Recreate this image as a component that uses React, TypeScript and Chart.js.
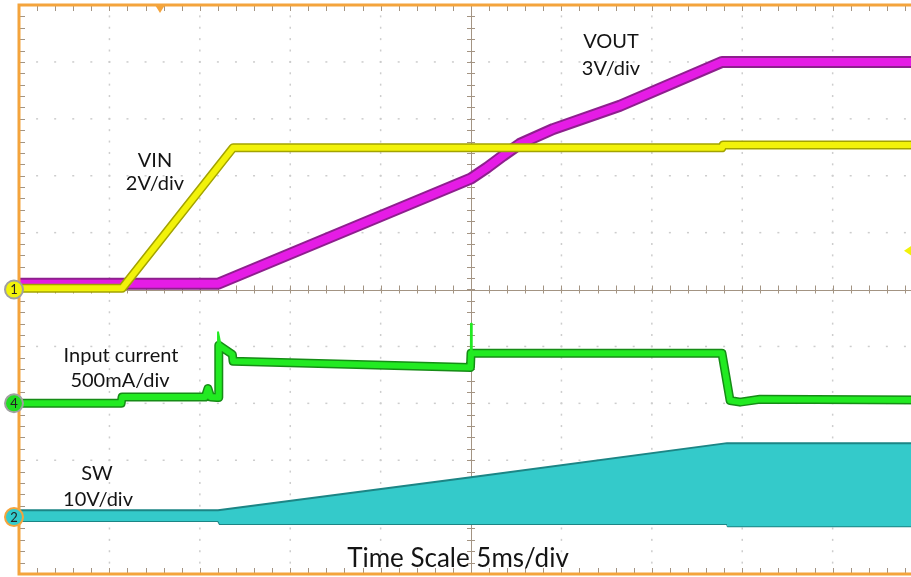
import React, { useEffect, useRef } from "react";
import { Chart, registerables } from "chart.js";

Chart.register(...registerables);

// time in ms (5 ms/div, trigger at 0), values in screen divisions (0 = centre line)
const vinTime = [-25, -19.3, -13.16, 13.88, 13.94, 25];
const vinDiv = [0.02, 0.02, 2.49, 2.49, 2.54, 2.54];

const voutTime = [-25, -13.99, 0, 0.88, 1.77, 2.71, 4.54, 8.24, 13.88, 25];
const voutDiv = [0.1, 0.1, 1.95, 2.14, 2.35, 2.56, 2.82, 3.23, 4.0, 4.0];

const iinTime = [-25, -19.35, -19.3, -14.7, -14.55, -14.4, -14.05, -13.99, -13.95, -13.2, -13.16, -0.03, 0.0, 13.88, 14.33, 14.88, 15.98, 25];
const iinDiv = [-2.0, -2.0, -1.89, -1.89, -1.74, -1.89, -1.9, -1.9, -0.98, -1.14, -1.26, -1.37, -1.12, -1.12, -1.95, -1.98, -1.93, -1.94];

const spikeATime = [-14.0, -13.99, -13.85];
const spikeADiv = [-1.9, -0.75, -0.98];
const spikeBTime = [-0.01, 0.0, 0.04];
const spikeBDiv = [-1.37, -0.6, -1.1];

const swTopTime = [-25, -13.99, 0, 14.16, 25];
const swTopDiv = [-3.88, -3.88, -3.3, -2.7, -2.7];
const swBotTime = [-25, -13.99, -13.9, 14.16, 14.2, 25];
const swBotDiv = [-4.07, -4.07, -4.12, -4.12, -4.16, -4.16];

const majorTimeTicks = [-25, -20, -15, -10, -5, 0, 5, 10, 15, 20, 25];
const majorDivTicks = [-5, -4, -3, -2, -1, 0, 1, 2, 3, 4, 5];

const labelTexts = ["VIN", "2V/div", "VOUT", "3V/div", "Input current", "500mA/div", "SW", "10V/div", "Time Scale 5ms/div"];
const labelX = [155, 155, 611, 611, 121, 120, 97, 98, 458];
const labelY = [167, 190, 48, 75, 362, 387, 480, 506, 567];
const labelSize = [20, 20, 20, 20, 20, 20, 20, 20, 26];

const channelMarks = ["1", "4", "2"];
const channelLevel = [0, -2.0, -4.0];
const channelFill = ["#F2F20A", "#22DD22", "#33CCCC"];
const channelRing = ["#a0a0a0", "#a0a0a0", "#F4A43C"];

const triggerTime = -17.2;
const triggerLevel = 0.68;

const FONT = "Lato, 'Open Sans', sans-serif";

export default function App() {
  const ref = useRef<HTMLCanvasElement>(null);

  useEffect(() => {
    const canvas = ref.current;
    if (!canvas) return;
    const pts = (ts: number[], vs: number[]) => ts.map((t, i) => ({ x: t, y: vs[i] }));

    const scopePlugin = {
      id: "scope",
      beforeDatasetsDraw(chart: any) {
        const { ctx, chartArea: a, scales } = chart;
        const x = scales.x, y = scales.y;
        const px = (t: number) => x.getPixelForValue(t);
        const py = (v: number) => y.getPixelForValue(v);
        ctx.save();
        ctx.fillStyle = "#cdcdcd";
        for (const t of majorTimeTicks) {
          if (t === 0 || t === -25 || t === 25) continue;
          for (let v = -5; v <= 5.001; v += 0.2) {
            ctx.fillRect(px(t) - 0.7, py(v) - 1, 1.5, 2);
          }
        }
        for (const v of majorDivTicks) {
          if (v === 0 || v === -5 || v === 5) continue;
          for (let t = -25; t <= 25.001; t += 1) {
            ctx.fillRect(px(t) - 1, py(v) - 0.7, 2, 1.5);
          }
        }
        ctx.strokeStyle = "#a39483";
        ctx.lineWidth = 1;
        ctx.beginPath();
        ctx.moveTo(a.left, Math.round(py(0)) + 0.5);
        ctx.lineTo(a.right, Math.round(py(0)) + 0.5);
        ctx.moveTo(Math.round(px(0)) + 0.5, a.top);
        ctx.lineTo(Math.round(px(0)) + 0.5, a.bottom);
        for (let t = -25; t <= 25.001; t += 1) {
          const X = Math.round(px(t)) + 0.5;
          ctx.moveTo(X, py(0) - 4);
          ctx.lineTo(X, py(0) + 4);
          ctx.moveTo(X, a.top);
          ctx.lineTo(X, a.top + 6);
          ctx.moveTo(X, a.bottom);
          ctx.lineTo(X, a.bottom - 6);
        }
        for (let v = -5; v <= 5.001; v += 0.2) {
          const Y = Math.round(py(v)) + 0.5;
          ctx.moveTo(px(0) - 4, Y);
          ctx.lineTo(px(0) + 4, Y);
          ctx.moveTo(a.left, Y);
          ctx.lineTo(a.left + 6, Y);
        }
        ctx.stroke();
        ctx.restore();
      },
      afterDatasetsDraw(chart: any) {
        const { ctx, chartArea: a, scales } = chart;
        const x = scales.x, y = scales.y;
        const px = (t: number) => x.getPixelForValue(t);
        const py = (v: number) => y.getPixelForValue(v);
        ctx.save();
        ctx.strokeStyle = "#F4A43C";
        ctx.lineWidth = 3;
        ctx.beginPath();
        ctx.moveTo(a.right + 5, a.top);
        ctx.lineTo(a.left, a.top);
        ctx.lineTo(a.left, a.bottom);
        ctx.lineTo(a.right + 5, a.bottom);
        ctx.stroke();
        ctx.fillStyle = "#F4A43C";
        const tx = px(triggerTime);
        ctx.beginPath();
        ctx.moveTo(tx - 5, a.top);
        ctx.lineTo(tx + 5, a.top);
        ctx.lineTo(tx, a.top + 8);
        ctx.closePath();
        ctx.fill();
        ctx.fillStyle = "#F2F20A";
        const ty = py(triggerLevel);
        ctx.beginPath();
        ctx.moveTo(904, ty);
        ctx.lineTo(913, ty - 6);
        ctx.lineTo(913, ty + 6);
        ctx.closePath();
        ctx.fill();
        channelMarks.forEach((m, i) => {
          const cy = py(channelLevel[i]);
          ctx.beginPath();
          ctx.arc(14, cy, 9, 0, Math.PI * 2);
          ctx.fillStyle = channelFill[i];
          ctx.fill();
          ctx.lineWidth = 2;
          ctx.strokeStyle = channelRing[i];
          ctx.stroke();
          ctx.fillStyle = "#222";
          ctx.font = `13px ${FONT}`;
          ctx.textAlign = "center";
          ctx.textBaseline = "middle";
          ctx.fillText(m, 14, cy + 0.5);
        });
        ctx.fillStyle = "#141414";
        ctx.textAlign = "center";
        ctx.textBaseline = "alphabetic";
        labelTexts.forEach((s, i) => {
          ctx.font = `${labelSize[i]}px ${FONT}`;
          ctx.fillText(s, labelX[i], labelY[i]);
        });
        ctx.restore();
      },
    };

    const line = (data: any, color: string, width: number, order: number, extra: any = {}) => ({
      data,
      borderColor: color,
      borderWidth: width,
      pointRadius: 0,
      tension: 0,
      fill: false,
      order,
      borderJoinStyle: "round",
      ...extra,
    });

    const chart = new Chart(canvas, {
      type: "line",
      data: {
        datasets: [
          line(pts(vinTime, vinDiv), "#F2F20A", 6, 0),
          line(pts(vinTime, vinDiv), "#A3A300", 9, 1),
          line(pts(voutTime, voutDiv), "#E51CE5", 8, 2),
          line(pts(voutTime, voutDiv), "#8E1F8E", 12, 3),
          line(pts(spikeATime, spikeADiv), "#22EA22", 2, 4),
          line(pts(spikeBTime, spikeBDiv), "#22EA22", 2, 4),
          line(pts(iinTime, iinDiv), "#22EA22", 6, 5),
          line(pts(iinTime, iinDiv), "#168C16", 9, 6),
          line(pts(swTopTime, swTopDiv), "#1C8585", 2, 7, { fill: "+1", backgroundColor: "#34CACA" }),
          line(pts(swBotTime, swBotDiv), "#1C8585", 2, 8),
        ] as any,
      },
      options: {
        animation: false,
        responsive: false,
        devicePixelRatio: 1,
        layout: { padding: { left: 19, top: 5, right: 7, bottom: 3 } },
        scales: {
          x: { type: "linear", min: -25, max: 25, display: false },
          y: { type: "linear", min: -5, max: 5, display: false },
        },
        plugins: { legend: { display: false }, tooltip: { enabled: false } },
      },
      plugins: [scopePlugin],
    });
    return () => chart.destroy();
  }, []);

  return (
    <div style={{ position: "fixed", left: 0, top: 0, width: 911, height: 577, overflow: "hidden", background: "#fff" }}>
      <canvas ref={ref} width={930} height={577} style={{ display: "block", width: 930, height: 577 }} />
    </div>
  );
}
